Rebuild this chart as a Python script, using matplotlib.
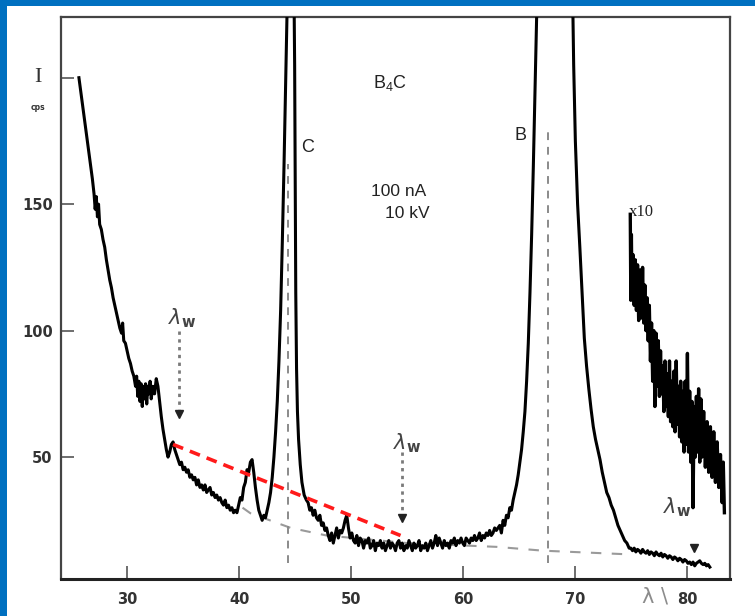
#!/usr/bin/env python3
"""Soft X-ray spectrum of B4C (100 nA, 10 kV) with background construction."""
from __future__ import annotations

import matplotlib

matplotlib.use("Agg")
import matplotlib.pyplot as plt
from matplotlib.patches import Rectangle

OUTPUT = "out.png"
FRAME_BLUE = "#0070C0"

# wavelength (Angstrom) and counting rate (cps) of the measured spectrum
main_lam = [
    25.7, 25.85, 26.0, 26.15, 26.3, 26.45, 26.6, 26.75, 26.9, 27.05, 27.15, 27.25,
    27.35, 27.45, 27.55, 27.7, 27.85, 28.0, 28.15, 28.3, 28.45, 28.6, 28.75, 28.9,
    29.05, 29.2, 29.35, 29.5, 29.6, 29.7, 29.85, 30.0, 30.15, 30.3, 30.45, 30.6,
    30.75, 30.85, 30.95, 31.05, 31.15, 31.25, 31.35, 31.45, 31.55, 31.65, 31.75,
    31.85, 31.95, 32.05, 32.15, 32.3, 32.45, 32.6, 32.75, 32.9, 33.05, 33.2, 33.35,
    33.5, 33.65, 33.8, 33.95, 34.1, 34.25, 34.4, 34.55, 34.7, 34.85, 35.0, 35.15,
    35.3, 35.45, 35.6, 35.75, 35.9, 36.05, 36.2, 36.35, 36.5, 36.65, 36.8, 36.95,
    37.1, 37.25, 37.4, 37.55, 37.7, 37.85, 38.0, 38.15, 38.3, 38.45, 38.6, 38.75,
    38.9, 39.05, 39.2, 39.35, 39.5, 39.65, 39.8, 39.95, 40.1, 40.25, 40.4, 40.55,
    40.7, 40.85, 41.0, 41.15, 41.3, 41.45, 41.6, 41.75, 41.9, 42.05, 42.2, 42.35,
    42.5, 42.65, 42.8, 42.95, 43.1, 43.25, 43.4, 43.55, 43.7, 43.85, 44.0, 44.15,
    44.3, 44.45, 44.65, 44.85, 44.95, 45.0, 45.05, 45.12, 45.2, 45.3, 45.45, 45.6,
    45.8, 46.0, 46.15, 46.3, 46.45, 46.6, 46.75, 46.9, 47.05, 47.2, 47.35, 47.5,
    47.65, 47.8, 47.95, 48.1, 48.25, 48.4, 48.55, 48.7, 48.85, 49.0, 49.15, 49.3,
    49.45, 49.6, 49.75, 49.9, 50.05, 50.2, 50.35, 50.5, 50.65, 50.8, 50.95, 51.1,
    51.25, 51.4, 51.55, 51.7, 51.85, 52.0, 52.15, 52.3, 52.45, 52.6, 52.75, 52.9,
    53.05, 53.2, 53.35, 53.5, 53.65, 53.8, 53.95, 54.1, 54.25, 54.4, 54.55, 54.7,
    54.85, 55.0, 55.15, 55.3, 55.45, 55.6, 55.75, 55.9, 56.05, 56.2, 56.35, 56.5,
    56.65, 56.8, 56.95, 57.1, 57.25, 57.4, 57.55, 57.7, 57.85, 58.0, 58.15, 58.3,
    58.45, 58.6, 58.75, 58.9, 59.05, 59.2, 59.35, 59.5, 59.65, 59.8, 59.95, 60.1,
    60.25, 60.4, 60.55, 60.7, 60.85, 61.0, 61.15, 61.3, 61.45, 61.6, 61.75, 61.9,
    62.05, 62.2, 62.35, 62.5, 62.65, 62.8, 62.95, 63.1, 63.25, 63.4, 63.55, 63.7,
    63.85, 64.0, 64.15, 64.3, 64.45, 64.6, 64.75, 64.9, 65.05, 65.2, 65.35, 65.5,
    65.65, 65.8, 65.95, 66.1, 66.25, 66.4, 66.55, 66.75, 67.0, 67.5, 68.2, 68.9,
    69.4, 69.7, 69.85, 70.0, 70.2, 70.4, 70.6, 70.8, 71.0, 71.2, 71.4, 71.6, 71.8,
    72.0, 72.2, 72.4, 72.6, 72.8, 73.0, 73.2, 73.4, 73.6, 73.8, 74.0, 74.2, 74.4,
    74.6, 74.8, 74.95, 75.1, 75.25, 75.4, 75.55, 75.7, 75.85, 76.0, 76.15, 76.3,
    76.45, 76.6, 76.75, 76.9, 77.05, 77.2, 77.35, 77.5, 77.65, 77.8, 77.95, 78.1,
    78.25, 78.4, 78.55, 78.7, 78.85, 79.0, 79.15, 79.3, 79.45, 79.6, 79.75, 79.9,
    80.05, 80.2, 80.35, 80.5, 80.65, 80.8, 80.95, 81.1, 81.25, 81.4, 81.55, 81.7,
    81.85, 82.0,
]
main_cps = [
    # steep bremsstrahlung rise below 34 A
    200, 195, 190, 185, 180, 175, 170, 165, 160, 154, 148, 153,
    145, 150, 142, 140, 136, 133, 128, 124, 120, 117, 113, 110,
    107, 104, 101, 99, 103, 96, 95, 92, 89, 87, 84, 82,
    78, 82, 74, 80, 72, 79, 70, 78, 73, 79, 71, 78,
    75, 80, 73, 78, 75, 81, 78, 72, 66, 61, 57, 53,
    50, 52, 55, 56, 53, 51,
    # 34.55 - 39.8 A
    49, 47, 48, 45, 46, 44, 45, 42, 43, 41, 42, 39,
    41, 38, 39, 37, 39, 36, 37, 38, 35, 36, 34, 35,
    33, 34, 32, 31, 33, 30, 31, 29, 30, 28, 29, 28,
    # small peak at 41 A and C K line
    31, 34, 33, 38, 40, 45, 44, 48, 49, 44, 38, 33,
    29, 27, 25, 27, 26, 29, 32, 36, 42, 50, 60, 72,
    88, 108, 135, 165, 198, 232, 262, 285, 255, 205, 160, 115,
    85, 68, 57, 47, 40, 35, 33,
    # 46.15 - 63.1 A
    32, 29, 30, 27, 29, 26, 25, 27, 23, 24, 21, 22,
    19, 17, 20, 16, 19, 22, 18, 21, 20, 22, 25, 27,
    22, 18, 20, 17, 16, 19, 15, 18, 17, 14, 17, 16,
    18, 14, 15, 17, 13, 16, 15, 17, 14, 16, 13, 15,
    17, 14, 16, 15, 13, 16, 17, 14, 16, 13, 15, 14,
    17, 15, 13, 16, 14, 15, 17, 13, 15, 14, 16, 13,
    15, 17, 14, 16, 19, 15, 18, 16, 14, 17, 15, 16,
    14, 17, 16, 18, 15, 17, 16, 18, 16, 15, 18, 17,
    16, 18, 17, 19, 17, 18, 20, 17, 19, 18, 20, 19,
    21, 19, 20, 22, 21, 22,
    # B K line
    23, 20, 25, 23, 27, 26, 30, 29, 33, 36, 39, 43,
    48, 53, 60, 68, 80, 95, 115, 138, 165, 195, 225,
    265, 310, 370, 400, 380, 320, 250, 205,
    175, 150, 133, 115, 97, 86, 77, 69, 62, 57, 53, 49, 44,
    40, 36, 34, 31, 29, 26, 23, 21, 19, 17, 16, 14,
    # long-wavelength tail
    14, 13, 14, 12.5, 13.5, 13, 12, 13.5, 12.5, 12, 13, 11.5,
    12.5, 12, 11, 12.5, 11.5, 11, 12, 10.5, 11.5, 11, 10, 11,
    10.5, 9.5, 10.5, 10, 9, 10, 9.5, 8.5, 9.5, 9, 8, 8.5,
    7.5, 8.5, 7, 8, 8.5, 9, 8, 7.5, 8, 7, 7.5, 6.5,
]

# tail of the spectrum recorded with ten times the gain
x10_lam = [
    74.9, 74.95, 75.0, 75.05, 75.15, 75.25, 75.35, 75.45, 75.55, 75.65, 75.8, 75.9,
    76.0, 76.1, 76.2, 76.3, 76.4, 76.5, 76.6, 76.7, 76.8, 76.9, 77.0, 77.1,
    77.2, 77.3, 77.4, 77.5, 77.6, 77.7, 77.8, 77.9, 78.0, 78.1, 78.2, 78.3,
    78.4, 78.5, 78.6, 78.7, 78.8, 78.9, 79.0, 79.1, 79.2, 79.3, 79.4, 79.5,
    79.6, 79.7, 79.8, 79.9, 80.0, 80.1, 80.2, 80.3, 80.4, 80.5, 80.6, 80.7,
    80.8, 80.9, 81.0, 81.1, 81.2, 81.3, 81.45, 81.6, 81.75, 81.9, 82.05, 82.2,
    82.35, 82.5, 82.65, 82.8, 82.95, 83.1, 83.2, 83.3,
]
x10_cps = [
    146, 112, 138, 115, 130, 110, 128, 108, 126, 104, 124, 105,
    125, 103, 118, 100, 113, 96, 110, 88, 103, 80, 100, 70,
    99, 78, 96, 74, 92, 75, 86, 68, 88, 70, 83, 66,
    88, 64, 80, 62, 84, 60, 88, 63, 78, 58, 80, 56,
    76, 52, 80, 55, 91, 52, 76, 48, 72, 30, 70, 50,
    74, 52, 77, 48, 73, 50, 68, 46, 64, 44, 62, 42,
    60, 40, 56, 38, 51, 32, 48, 28,
]

# estimated continuum under the spectrum
base_lam = [40.3, 41.0, 44.6, 47.8, 55.0, 63.0, 67.1, 75.0]
base_cps = [30, 27.8, 22, 19, 16, 14.5, 13, 11.5]

# straight background through the two lambda_w points
red_lam = [34.1, 54.4]
red_cps = [55, 19]

# line positions of C K and B K
line_lam = [44.4, 67.6]
line_top = [166, 180]
line_bottom = [8, 8]

# background measuring positions: label, arrow start, arrow head
bg_lam = [34.6, 54.5, 80.6]
bg_text_lam = [34.9, 55.0, 79.1]
bg_text_cps = [105, 55.5, 30]
bg_arrow_top = [100, 52, None]
bg_head = [67, 26, 14]

X_TICKS = [30, 40, 50, 60, 70, 80]
Y_TICKS = [50, 100, 150, 200]
Y_TICK_LABELS = ["50", "100", "150", ""]


def draw(ax: plt.Axes) -> None:
    assert len(main_lam) == len(main_cps)
    assert len(x10_lam) == len(x10_cps)
    ax.plot(main_lam, main_cps, color="black", linewidth=2.2, solid_joinstyle="round", zorder=4)
    ax.plot(x10_lam, x10_cps, color="black", linewidth=2.4, zorder=4)

    ax.plot(base_lam, base_cps, color="#9a9a9a", linewidth=1.5,
            dashes=(5, 5), zorder=2)
    for lam, top, bottom in zip(line_lam, line_top, line_bottom):
        ax.plot([lam, lam], [bottom, top], color="#8a8a8a", linewidth=1.4,
                dashes=(4, 3.5), zorder=2)

    ax.plot(red_lam, red_cps, color="#ff1a1a", linewidth=2.6, dashes=(3, 2), zorder=5)

    for lam, tl, tc, top, head in zip(bg_lam, bg_text_lam, bg_text_cps, bg_arrow_top, bg_head):
        ax.text(tl, tc, r"$\lambda_\mathbf{w}$", fontsize=15, color="#444444",
                ha="center", va="center", zorder=6)
        if top is not None:
            ax.plot([lam, lam], [top, head + 2], color="#7a7a7a", linewidth=2.0,
                    dashes=(1.2, 1.6), zorder=3)
        ax.plot([lam], [head], marker="v", markersize=6, color="#222222",
                linestyle="none", zorder=6)

    text_kw = dict(family="Liberation Sans", color="#222222", ha="center", va="center")
    ax.text(53.5, 198, r"B$_\mathregular{4}$C", fontsize=13, **text_kw)
    ax.text(46.1, 172.5, "C", fontsize=13, **text_kw)
    ax.text(65.1, 177, "B", fontsize=13, **text_kw)
    ax.text(54.2, 155, "100 nA", fontsize=12.5, **text_kw)
    ax.text(55.0, 146.5, "10 kV", fontsize=12.5, **text_kw)
    ax.text(75.9, 147, "x10", fontsize=12, family="Liberation Serif",
            color="#222222", ha="center", va="center")


def style_axes(ax: plt.Axes) -> None:
    ax.set_xlim(24.1, 83.8)
    ax.set_ylim(1.8, 224)
    ax.set_xticks(X_TICKS)
    ax.set_yticks(Y_TICKS)
    ax.set_yticklabels(Y_TICK_LABELS)
    for spine in ax.spines.values():
        spine.set_color("#444444")
        spine.set_linewidth(1.6)
    ax.spines["bottom"].set_linewidth(2.2)
    ax.spines["bottom"].set_color("#222222")
    ax.tick_params(direction="in", length=9.5, width=1.2, color="#555555",
                   labelsize=10.5, labelcolor="#333333")
    ax.tick_params(axis="x", pad=9)
    ax.tick_params(axis="y", pad=6)
    for label in ax.get_xticklabels() + ax.get_yticklabels():
        label.set_fontweight("bold")
        label.set_family("DejaVu Sans")


def main() -> None:
    fig = plt.figure(figsize=(7.55, 6.16), dpi=100, facecolor=FRAME_BLUE)
    fig.add_artist(Rectangle((7 / 755, 0), 1, 1 - 6 / 616, transform=fig.transFigure,
                             facecolor="white", edgecolor="none", zorder=-1))
    ax = fig.add_axes([61 / 755, 1 - 579 / 616, (730 - 61) / 755, (579 - 17) / 616])
    ax.set_facecolor("white")

    draw(ax)
    style_axes(ax)

    fig.text(38 / 755, 1 - 77 / 616, "I", fontsize=16, family="Liberation Serif",
             color="#333333", ha="center", va="center")
    fig.text(38 / 755, 1 - 107 / 616, "cps", fontsize=5.5, fontweight="bold",
             color="#333333", ha="center", va="center")
    fig.text(655 / 755, 1 - 596 / 616, "λ \\", fontsize=15, color="#8c8c8c",
             ha="center", va="center")

    fig.savefig(OUTPUT, dpi=100, facecolor=fig.get_facecolor())
    plt.close(fig)


if __name__ == "__main__":
    main()
